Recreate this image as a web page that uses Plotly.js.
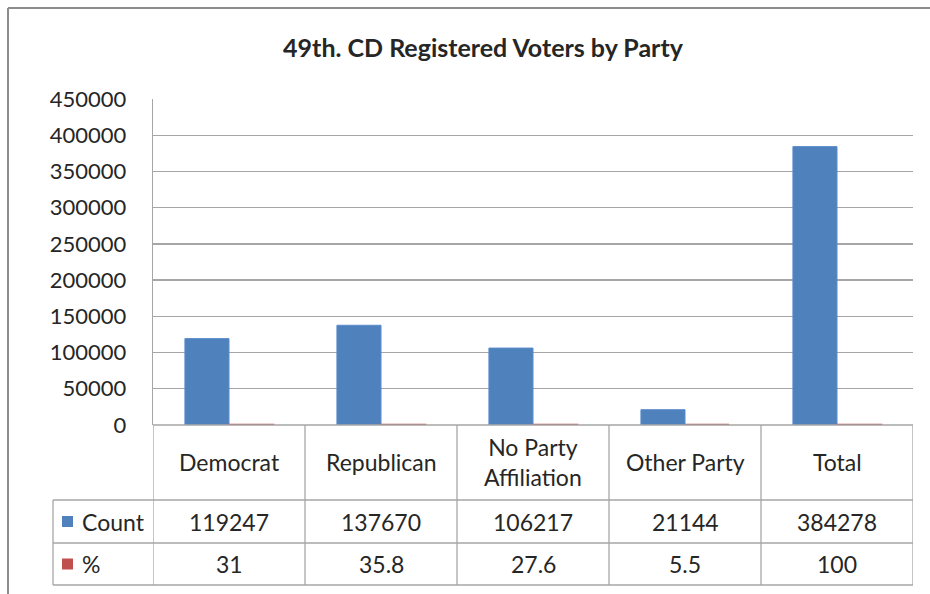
<!DOCTYPE html>
<html>
<head>
<meta charset="utf-8">
<script src="https://cdn.plot.ly/plotly-3.0.1.min.js"></script>
<style>html,body{margin:0;padding:0;background:#fff;}#chart{width:930px;height:594px;}</style>
</head>
<body>
<div id="chart"></div>
<script>
// ---- data ----
const categories = ["Democrat", "Republican", "No Party Affiliation", "Other Party", "Total"];
const categoryLabels = ["Democrat", "Republican", "No Party<br>Affiliation", "Other Party", "Total"];
const countValues = [119247, 137670, 106217, 21144, 384278];
const percentValues = [31, 35.8, 27.6, 5.5, 100];
const seriesNames = ["Count", "%"];
const chartTitle = "49th. CD Registered Voters by Party";

// ---- layout helpers ----
const W = 930, H = 594;
const L = 153, R = 913, T = 99, B = 425;
const px2x = p => (p - L) / (R - L);
const px2y = p => (B - p) / (B - T);
const FONT = "Lato, 'Open Sans', sans-serif";
const TXT = "#262626";
const GRID = "#a6a6a6";
const BLUE = "#4f81bd", RED = "#c0504d";

const traces = [
  {type: "bar", x: categories, y: countValues, name: seriesNames[0],
   marker: {color: BLUE, line: {color: "#5b8ccc", width: 1}}, hoverinfo: "x+y"},
  {type: "bar", x: categories, y: percentValues, name: seriesNames[1],
   marker: {color: RED, line: {color: RED, width: 2.5}}, hoverinfo: "x+y"}
];

const shapes = [];
const line = (x0, y0, x1, y1, xref, c, w) => shapes.push({type: "line", xref: xref || "paper", yref: "paper",
  x0, y0, x1, y1, line: {color: c || GRID, width: w || 1.3}, layer: "above"});

const yHead = 500, yCount = 543, yPct = 585, xLeft = 53;
// horizontal table lines
line(px2x(L), px2y(B), px2x(R), px2y(B));
[yHead, yCount, yPct].forEach(y => line(px2x(xLeft), px2y(y), px2x(R), px2y(y)));
// vertical table lines
line(px2x(xLeft), px2y(yHead), px2x(xLeft), px2y(yPct));
for (let i = 0; i <= categories.length; i++) {
  const xv = i - 0.5;
  shapes.push({type: "line", xref: "x", yref: "paper", x0: xv, x1: xv, y0: px2y(B), y1: px2y(yPct),
    line: {color: GRID, width: 1.3}, layer: "above"});
}
// outer chart frame (left & top edges)
line(px2x(8), px2y(8), px2x(8), px2y(H + 5), "paper", "#8c8c8c", 2);
line(px2x(8), px2y(8), px2x(W + 5), px2y(8), "paper", "#8c8c8c", 2);

// legend keys in the data table
const keyColors = [BLUE, RED];
const rowMid = [(yHead + yCount) / 2, (yCount + yPct) / 2];
keyColors.forEach((c, k) => {
  shapes.push({type: "rect", xref: "paper", yref: "paper", x0: px2x(62), x1: px2x(73),
    y0: px2y(rowMid[k] - 5.5), y1: px2y(rowMid[k] + 5.5), fillcolor: c, line: {width: 0}, layer: "above"});
});

const annotations = [];
const fontT = {family: FONT, size: 23, color: TXT};
categories.forEach((c, i) => {
  annotations.push({xref: "x", yref: "paper", x: c, y: px2y((B + yHead) / 2), text: categoryLabels[i],
    showarrow: false, font: fontT, xanchor: "center", yanchor: "middle"});
  annotations.push({xref: "x", yref: "paper", x: c, y: px2y(rowMid[0]), text: String(countValues[i]),
    showarrow: false, font: fontT, xanchor: "center", yanchor: "middle"});
  annotations.push({xref: "x", yref: "paper", x: c, y: px2y(rowMid[1]), text: String(percentValues[i]),
    showarrow: false, font: fontT, xanchor: "center", yanchor: "middle"});
});
seriesNames.forEach((n, k) => {
  annotations.push({xref: "paper", yref: "paper", x: px2x(80), y: px2y(rowMid[k]), xanchor: "left", yanchor: "middle",
    text: n, showarrow: false, font: fontT});
});

const layout = {
  width: W, height: H,
  margin: {l: L, r: W - R, t: T, b: H - B, pad: 0},
  paper_bgcolor: "#fff", plot_bgcolor: "#fff",
  title: {text: "<b>" + chartTitle + "</b>", x: 483 / W, xanchor: "center", y: 1 - 48 / H, yanchor: "middle",
    xref: "container", yref: "container", font: {family: FONT, size: 25, color: TXT}},
  showlegend: false,
  barmode: "group", bargap: 0.42, bargroupgap: 0,
  xaxis: {range: [-0.5, categories.length - 0.5], showticklabels: false, showgrid: false, zeroline: false,
    showline: false, ticks: "", fixedrange: true},
  yaxis: {range: [0, 450000], dtick: 50000, tick0: 0, showgrid: true, gridcolor: GRID, gridwidth: 1.3,
    zeroline: false, showline: true, linecolor: GRID, linewidth: 1.3, ticks: "", ticklabelstandoff: 21,
    tickfont: {family: FONT, size: 22, color: TXT}, tickformat: "d", fixedrange: true},
  shapes, annotations,
  font: {family: FONT, color: TXT}
};

Plotly.newPlot("chart", traces, layout, {displayModeBar: false, staticPlot: true});
</script>
</body>
</html>
